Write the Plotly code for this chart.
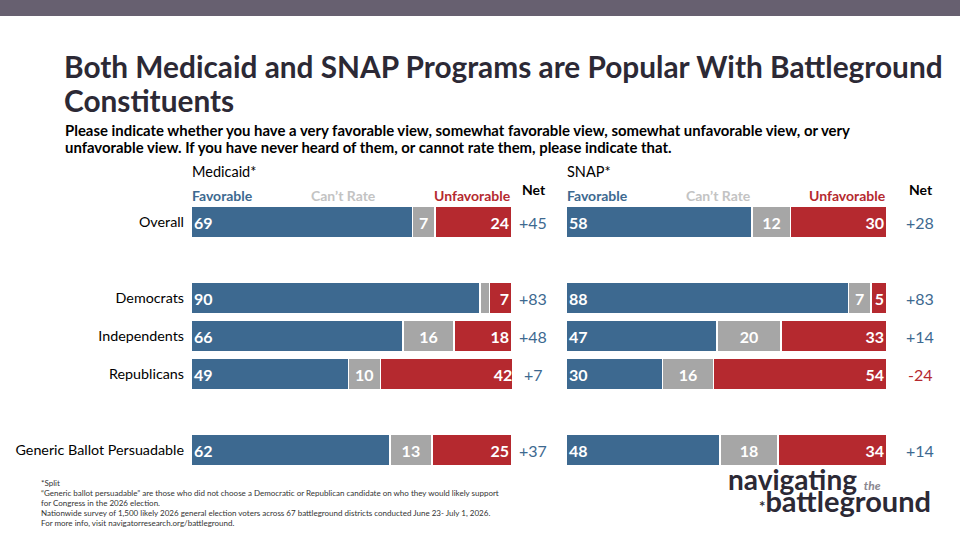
import plotly.graph_objects as go

rows = ["Overall", "Democrats", "Independents", "Republicans", "Generic Ballot Persuadable"]
category_order = ["Overall", "gap1", "Democrats", "Independents", "Republicans", "gap2",
                  "Generic Ballot Persuadable"]

medicaid_fav = [69, 90, 66, 49, 62]
medicaid_cant = [7, 3, 16, 10, 13]
medicaid_unfav = [24, 7, 18, 42, 25]
medicaid_net = [45, 83, 48, 7, 37]

snap_fav = [58, 88, 47, 30, 48]
snap_cant = [12, 7, 20, 16, 18]
snap_unfav = [30, 5, 33, 54, 34]
snap_net = [28, 83, 14, -24, 14]

BLUE = "#3d6990"
GRAY = "#a6a6a6"
RED = "#b5292f"
LIGHT = "#c3c3c3"
DARK = "#2c2935"
FONT = "Lato"

W, H = 960, 540


def px(x):
    return x / W


def py(y):
    return 1 - y / H


def labels(vals):
    return [str(v) if v >= 5 else "" for v in vals]


fig = go.Figure()

panels = [
    ("x", medicaid_fav, medicaid_cant, medicaid_unfav),
    ("x2", snap_fav, snap_cant, snap_unfav),
]
for xa, fav, cant, unfav in panels:
    for vals, color, anchor in [(fav, BLUE, "start"), (cant, GRAY, "middle"), (unfav, RED, "end")]:
        fig.add_trace(go.Bar(
            y=rows, x=vals, orientation="h", xaxis=xa, yaxis="y",
            marker=dict(color=color, line=dict(color="white", width=1.5)),
            text=labels(vals), textposition="inside", insidetextanchor=anchor,
            textfont=dict(family=FONT, size=16, color="white", weight="bold"),
            showlegend=False, hoverinfo="skip",
        ))

med_dom = [px(191), px(512)]
snap_dom = [px(566), px(887)]
ydom = [py(469), py(203)]

fig.update_layout(
    width=W, height=H, margin=dict(l=0, r=0, t=0, b=0),
    paper_bgcolor="white", plot_bgcolor="white",
    barmode="stack", bargap=0.16,
    uniformtext=dict(minsize=15, mode="show"),
    font=dict(family=FONT, color="black"),
    xaxis=dict(domain=med_dom, range=[0, 100], visible=False, fixedrange=True),
    xaxis2=dict(domain=snap_dom, range=[0, 100], visible=False, fixedrange=True, anchor="y"),
    yaxis=dict(domain=ydom, type="category", categoryorder="array", categoryarray=category_order,
               autorange="reversed", tickvals=rows, ticktext=rows, showgrid=False,
               zeroline=False, showline=False, ticks="", ticklabelstandoff=6,
               tickfont=dict(family=FONT, size=14.3, color="black"), anchor="x"),
)

# top band
fig.add_shape(type="rect", xref="paper", yref="paper", x0=0, x1=1, y0=py(16), y1=1,
              fillcolor="#676070", line_width=0, layer="below")

ann = []


def text(x, y, s, size, color="black", xanchor="left", bold=False, italic=False, yanchor="middle"):
    ann.append(dict(x=px(x), y=py(y), xref="paper", yref="paper", text=s, showarrow=False,
                    xanchor=xanchor, yanchor=yanchor, align=xanchor if xanchor != "center" else "center",
                    font=dict(family=FONT, size=size, color=color,
                              weight="bold" if bold else "normal",
                              style="italic" if italic else "normal")))


text(62, 66, "Both Medicaid and SNAP Programs are Popular With Battleground", 29.8, DARK, bold=True)
text(62, 101, "Constituents", 29.8, DARK, bold=True)
text(63, 130, "Please indicate whether you have a very favorable view, somewhat favorable view, somewhat unfavorable view, or very", 14.9, bold=True)
text(63, 147, "unfavorable view. If you have never heard of them, or cannot rate them, please indicate that.", 14.9, bold=True)

for left, right, name, netx in [(191, 512, "Medicaid*", 534), (566, 887, "SNAP*", 921)]:
    text(left - 1, 171, name, 14.5)
    text(left - 1, 195, "Favorable", 14, BLUE, bold=True)
    text(left + 0.475 * (right - left), 195, "Can\u2019t Rate", 14, LIGHT, xanchor="center", bold=True)
    text(right + 1, 195, "Unfavorable", 14, RED, xanchor="right", bold=True)
    text(netx, 189, "Net", 14, xanchor="center", bold=True)

for nets, netx in [(medicaid_net, 533), (snap_net, 920)]:
    for r, n in zip(rows, nets):
        ann.append(dict(x=px(netx), y=r, xref="paper", yref="y", showarrow=False,
                        text=f"{n:+d}", xanchor="center", yanchor="middle",
                        font=dict(family=FONT, size=16, color=BLUE if n >= 0 else RED)))

foot = [
    "*Split",
    "\u201cGeneric ballot persuadable\u201d are those who did not choose a Democratic or Republican candidate on who they would likely support",
    "for Congress in the 2026 election.",
    "Nationwide survey of 1,500 likely 2026 general election voters across 67 battleground districts conducted June 23- July 1, 2026.",
    "For more info, visit navigatorresearch.org/battleground.",
]
for i, line in enumerate(foot):
    text(39, 483 + i * 9.9, line, 8.0, "#333333")

# logo
text(726, 479, "navigating <span style='font-size:12px;color:#8a8790;font-style:italic'>the</span>",
     28, DARK, bold=True)
text(757, 500, "<span style='font-size:15px'>*</span>battleground", 29, DARK, bold=True)

fig.update_layout(annotations=ann)
fig.write_html("out.html")
